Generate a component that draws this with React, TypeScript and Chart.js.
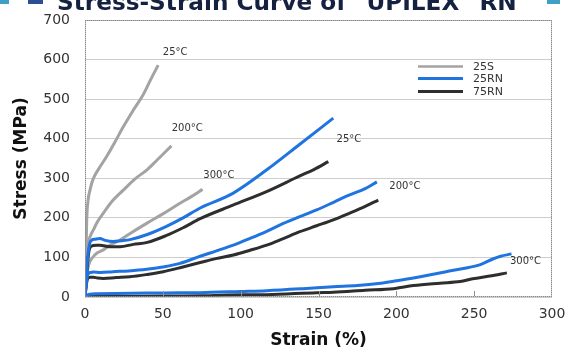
import { useEffect, useRef } from "react";
import { Chart, registerables } from "chart.js";

Chart.register(...registerables);

const FONT = "'DejaVu Sans', Verdana, sans-serif";

// ---------- titles & ticks ----------
const titleText = 'Stress-Strain Curve of "UPILEX" RN';
const xAxisTitle = "Strain (%)";
const yAxisTitle = "Stress (MPa)";
const xTickValues = [0, 50, 100, 150, 200, 250, 300];
const yTickValues = [0, 100, 200, 300, 400, 500, 600, 700];

// ---------- 25S ----------
const strain25S_25 = [0, 0.5, 1.1, 2, 3.2, 4.5, 6, 9, 13.9, 19, 24.6, 31, 37.5, 42, 47];
const stress25S_25 = [0, 80, 195, 245, 270, 290, 305, 325, 355, 390, 430, 472, 512, 548, 586];

const strain25S_200 = [0, 1, 2.1, 3.5, 5.3, 8, 11.8, 17, 24.6, 32, 40, 46, 55.5];
const stress25S_200 = [0, 80, 136, 155, 169, 190, 212, 240, 270, 298, 322, 345, 382];

const strain25S_300 = [0, 1, 2.1, 3.5, 5.3, 8, 11.8, 17, 22.5, 30, 39.6, 50, 61, 68, 75.5];
const stress25S_300 = [0, 50, 77, 92, 102, 112, 119, 133, 144, 163, 186, 210, 237, 253, 272];

// ---------- 25RN ----------
const strain25RN_25 = [0, 1, 2, 3, 4.5, 6.4, 9.6, 13, 18, 23, 28.9, 40, 52, 63, 74, 95, 117, 138, 159.5];
const stress25RN_25 = [0, 60, 110, 135, 144, 146, 148, 143, 140, 142, 145, 158, 178, 200, 225, 262, 322, 386, 452];

const strain25RN_200 = [0, 1, 2, 3.5, 5.3, 10, 18, 28, 39.6, 50, 61, 74, 84, 95.3, 106, 116.7, 127.4, 138, 148.8, 160, 170, 180, 187.5];
const stress25RN_200 = [0, 40, 58, 62, 63, 62, 64, 66, 70, 76, 85, 103, 116, 131, 148, 166, 186, 203, 220, 240, 258, 274, 291];

const strain25RN_300 = [0, 1, 3, 8, 20, 40, 60, 74, 100, 116.7, 140, 159.5, 175, 190, 200, 211, 222, 232, 243, 254, 262, 267, 274];
const stress25RN_300 = [0, 4, 7, 8, 9, 10, 10.5, 11, 14, 16, 21, 26, 29, 35, 41, 48, 56, 64, 72, 82, 96, 103, 109];

// ---------- 75RN ----------
const strain75RN_25 = [0, 1, 2, 3.2, 5.3, 7.5, 9.6, 16, 22.5, 31, 40, 52, 63, 74, 95, 117, 138, 147, 156.3];
const stress75RN_25 = [0, 50, 100, 125, 130, 131, 131, 127, 127, 133, 138, 155, 175, 198, 232, 267, 306, 322, 342];

const strain75RN_200 = [0, 1, 2, 3.5, 5.3, 8, 11.8, 20, 28.9, 40, 50.3, 61, 74, 84, 95.3, 106, 116.7, 127, 138, 148.8, 159.5, 170, 180, 188.4];
const stress75RN_200 = [0, 35, 48, 50, 50, 48, 47, 49, 51, 57, 64, 74, 87, 97, 106, 118, 131, 147, 165, 180, 195, 212, 229, 245];

const strain75RN_300 = [0, 3, 20, 50, 74, 91, 116.7, 149, 159.5, 180, 198, 211, 228, 241, 249, 260, 271];
const stress75RN_300 = [0, 1, 1.5, 2.5, 3, 5, 6, 11, 12, 17, 21, 29, 35, 39, 46, 53, 61];

// ---------- temperature annotations (data coordinates: left edge, middle) ----------
const noteText = ["25°C", "200°C", "300°C", "25°C", "200°C", "300°C"];
const noteStrain = [50, 55.7, 76, 161.6, 195.5, 273];
const noteStress = [617, 427, 308, 398, 280, 90];

const GRAY = "#a3a3a3";
const BLUE = "#1f74e0";
const BLACK = "#2e2e2e";

const pts = (xs: number[], ys: number[]) => xs.map((x, i) => ({ x, y: ys[i] }));

const mk = (label: string, xs: number[], ys: number[], color: string, legendRank: number) => ({
  label,
  data: pts(xs, ys),
  borderColor: color,
  backgroundColor: color,
  borderWidth: 3,
  pointRadius: 0,
  fill: false,
  cubicInterpolationMode: "monotone" as const,
  legendRank,
});

const overlayPlugin = {
  id: "overlay",
  beforeDraw(chart: any) {
    const { ctx, width, height } = chart;
    ctx.save();
    ctx.fillStyle = "#ffffff";
    ctx.fillRect(0, 0, width, height);
    ctx.restore();
  },
  afterDraw(chart: any) {
    const { ctx, chartArea: ca, scales } = chart;
    ctx.save();
    // plot border (dotted look)
    const l = Math.round(ca.left);
    const t = Math.round(ca.top);
    const r = Math.round(ca.right) - 1;
    const b = Math.round(ca.bottom) - 1;
    ctx.fillStyle = "rgba(150,150,150,0.55)";
    ctx.fillRect(l, t, r - l + 1, 1);
    ctx.fillRect(l, b, r - l + 1, 1);
    ctx.fillRect(l, t, 1, b - t + 1);
    ctx.fillRect(r, t, 1, b - t + 1);
    ctx.fillStyle = "#8a8a8a";
    for (let x = l; x <= r; x += 2) {
      ctx.fillRect(x, t, 1, 1);
      ctx.fillRect(x, b, 1, 1);
    }
    for (let y = t; y <= b; y += 2) {
      ctx.fillRect(l, y, 1, 1);
      ctx.fillRect(r, y, 1, 1);
    }
    // inner ticks at bottom
    ctx.fillStyle = "#8f8f8f";
    scales.x.ticks.forEach((tk: any) => {
      const px = Math.round(scales.x.getPixelForValue(tk.value));
      if (px <= ca.left + 1 || px >= ca.right - 1) return;
      ctx.fillRect(px, b - 5, 1, 5);
    });
    // temperature labels
    ctx.fillStyle = "#333";
    ctx.font = `10px ${FONT}`;
    ctx.textBaseline = "middle";
    ctx.textAlign = "left";
    noteText.forEach((txt, i) => {
      ctx.fillText(txt, scales.x.getPixelForValue(noteStrain[i]), scales.y.getPixelForValue(noteStress[i]));
    });
    // legend (one entry per material)
    const items = chart.data.datasets
      .filter((d: any) => d.legendRank >= 0)
      .sort((a: any, b2: any) => a.legendRank - b2.legendRank);
    items.forEach((d: any, i: number) => {
      const y = Math.round(ca.top + 46 + i * 12.3) + 0.5;
      ctx.strokeStyle = d.borderColor;
      ctx.lineWidth = i === 0 ? 2.5 : 3;
      ctx.beginPath();
      ctx.moveTo(ca.right - 134, y);
      ctx.lineTo(ca.right - 89, y);
      ctx.stroke();
      ctx.fillStyle = "#333";
      ctx.font = `11px ${FONT}`;
      ctx.textBaseline = "middle";
      ctx.fillText(d.label, ca.right - 79, y + 0.5);
    });
    // slide header (cut off at top of the picture)
    ctx.fillStyle = "#3f9fc4";
    ctx.fillRect(0, -8, 9, 12);
    ctx.fillRect(547, -8, 13, 12);
    ctx.fillStyle = "#2c4f92";
    ctx.fillRect(28, -8, 15, 12);
    ctx.fillStyle = "#14213f";
    let size = 22;
    ctx.font = `bold ${size}px ${FONT}`;
    const w = ctx.measureText(titleText).width;
    size = (size * 460) / w;
    ctx.font = `bold ${size}px ${FONT}`;
    ctx.textBaseline = "alphabetic";
    ctx.textAlign = "left";
    ctx.fillText(titleText, 57, 10);
    ctx.restore();
  },
};

export default function App() {
  const ref = useRef<HTMLCanvasElement>(null);
  useEffect(() => {
    const datasets = [
      mk("25RN", strain25RN_25, stress25RN_25, BLUE, 1),
      mk("25RN", strain25RN_200, stress25RN_200, BLUE, -1),
      mk("25RN", strain25RN_300, stress25RN_300, BLUE, -1),
      mk("75RN", strain75RN_25, stress75RN_25, BLACK, 2),
      mk("75RN", strain75RN_200, stress75RN_200, BLACK, -1),
      mk("75RN", strain75RN_300, stress75RN_300, BLACK, -1),
      mk("25S", strain25S_25, stress25S_25, GRAY, 0),
      mk("25S", strain25S_200, stress25S_200, GRAY, -1),
      mk("25S", strain25S_300, stress25S_300, GRAY, -1),
    ];
    const chart = new Chart(ref.current!, {
      type: "line",
      data: { datasets },
      options: {
        animation: false,
        responsive: false,
        devicePixelRatio: 1,
        layout: { padding: { top: 20, right: 15, left: 0, bottom: 0 } },
        plugins: {
          legend: { display: false },
          tooltip: { enabled: false },
        },
        scales: {
          x: {
            type: "linear",
            min: 0,
            max: 300,
            afterBuildTicks: (s: any) => {
              s.ticks = xTickValues.map((v) => ({ value: v }));
            },
            ticks: { font: { family: FONT, size: 14 }, color: "#333", padding: 9 },
            grid: { display: false, drawTicks: false },
            border: { display: false },
            title: {
              display: true,
              text: xAxisTitle,
              font: { family: FONT, size: 17, weight: "bold", lineHeight: 1 },
              color: "#111",
              padding: { top: 0, bottom: 0.5 },
            },
            afterFit: (s: any) => {
              s.height = 53;
              s.paddingLeft = 0;
              s.paddingRight = 0;
            },
          },
          y: {
            type: "linear",
            min: 0,
            max: 700,
            afterBuildTicks: (s: any) => {
              s.ticks = yTickValues.map((v) => ({ value: v }));
            },
            ticks: { font: { family: FONT, size: 14 }, color: "#333", padding: 15 },
            grid: { color: "#cdcdcd", drawTicks: false, lineWidth: 1 },
            border: { display: false },
            title: {
              display: true,
              text: yAxisTitle,
              font: { family: FONT, size: 17, weight: "bold", lineHeight: 1 },
              color: "#111",
              padding: { top: 13.5, bottom: 0 },
            },
            afterFit: (s: any) => {
              s.width = 85;
              s.paddingTop = 0;
              s.paddingBottom = 0;
            },
          },
        },
      } as any,
      plugins: [overlayPlugin],
    });
    return () => chart.destroy();
  }, []);
  return (
    <div style={{ position: "fixed", left: 0, top: 0, width: 567, height: 350, background: "#fff" }}>
      <canvas ref={ref} width={567} height={350} style={{ display: "block", width: 567, height: 350 }} />
    </div>
  );
}
